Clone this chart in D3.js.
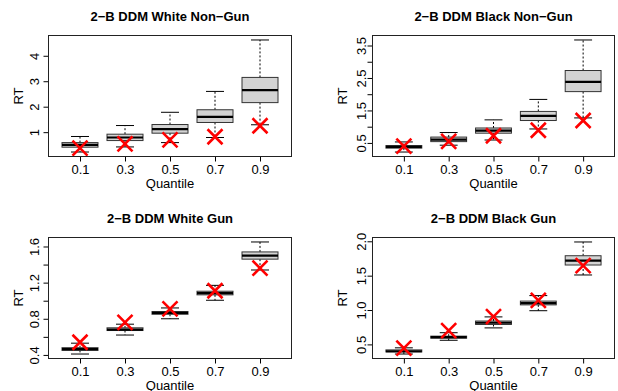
<!DOCTYPE html>
<html>
<head>
<meta charset="utf-8">
<script src="https://cdn.jsdelivr.net/npm/d3@7"></script>
<style>
  body { margin: 0; background: #fff; }
  svg text { font-family: "Liberation Sans", Arial, sans-serif; fill: #000; }
</style>
</head>
<body>
<svg id="chart" width="618" height="391"></svg>
<script>
const quantiles = ['0.1', '0.3', '0.5', '0.7', '0.9'];
const titles = ['2\u2212B DDM White Non\u2212Gun', '2\u2212B DDM Black Non\u2212Gun',
  '2\u2212B DDM White Gun', '2\u2212B DDM Black Gun'];

// box stats per quantile: [lower whisker, Q1, median, Q3, upper whisker]
const whiteNonGunBoxes = [[0.22, 0.41, 0.50, 0.59, 0.83], [0.42, 0.67, 0.79, 0.92, 1.26],
  [0.59, 0.96, 1.12, 1.30, 1.78], [0.79, 1.38, 1.60, 1.88, 2.60], [1.29, 2.16, 2.65, 3.15, 4.62]];
const blackNonGunBoxes = [[0.22, 0.34, 0.38, 0.42, 0.53], [0.43, 0.54, 0.60, 0.68, 0.82],
  [0.59, 0.80, 0.88, 0.96, 1.21], [0.93, 1.19, 1.33, 1.47, 1.84], [1.27, 2.08, 2.38, 2.73, 3.67]];
const whiteGunBoxes = [[0.41, 0.45, 0.465, 0.48, 0.53], [0.62, 0.67, 0.68, 0.70, 0.74],
  [0.80, 0.85, 0.865, 0.88, 0.92], [1.005, 1.065, 1.085, 1.105, 1.17], [1.34, 1.46, 1.50, 1.54, 1.65]];
const blackGunBoxes = [[0.36, 0.39, 0.40, 0.42, 0.45], [0.56, 0.59, 0.605, 0.62, 0.67],
  [0.74, 0.79, 0.815, 0.84, 0.90], [0.99, 1.075, 1.10, 1.13, 1.21], [1.51, 1.655, 1.72, 1.79, 1.99]];

// observed quantiles (red crosses)
const whiteNonGunObs = [0.37, 0.54, 0.70, 0.82, 1.25];
const blackNonGunObs = [0.40, 0.55, 0.72, 0.89, 1.19];
const whiteGunObs = [0.54, 0.76, 0.91, 1.11, 1.36];
const blackGunObs = [0.445, 0.70, 0.905, 1.14, 1.645];

// y ticks and which of them carry a label
const whiteNonGunTicks = [1, 2, 3, 4];
const whiteNonGunLabels = ['1', '2', '3', '4'];
const blackNonGunTicks = [0.5, 1, 1.5, 2, 2.5, 3, 3.5];
const blackNonGunLabels = ['0.5', '', '1.5', '', '2.5', '', '3.5'];
const whiteGunTicks = [0.4, 0.6, 0.8, 1.0, 1.2, 1.4, 1.6];
const whiteGunLabels = ['0.4', '', '0.8', '', '1.2', '', '1.6'];
const blackGunTicks = [0.5, 1.0, 1.5, 2.0];
const blackGunLabels = ['0.5', '1.0', '1.5', '2.0'];

const panels = [
  {title: titles[0], boxes: whiteNonGunBoxes, obs: whiteNonGunObs, ticks: whiteNonGunTicks, labels: whiteNonGunLabels,
    x0: 48.5, x1: 291.5, y0: 35.5, y1: 156.5, lab: 14},
  {title: titles[1], boxes: blackNonGunBoxes, obs: blackNonGunObs, ticks: blackNonGunTicks, labels: blackNonGunLabels,
    x0: 372.5, x1: 614.5, y0: 35.5, y1: 156.5, lab: 11.5},
  {title: titles[2], boxes: whiteGunBoxes, obs: whiteGunObs, ticks: whiteGunTicks, labels: whiteGunLabels,
    x0: 48.5, x1: 291.5, y0: 237.5, y1: 358.5, lab: 14},
  {title: titles[3], boxes: blackGunBoxes, obs: blackGunObs, ticks: blackGunTicks, labels: blackGunLabels,
    x0: 372.5, x1: 614.5, y0: 237.5, y1: 358.5, lab: 11.5}
];

const svg = d3.select('#chart');

panels.forEach(function(p) {
  const g = svg.append('g');

  // R style: xlim c(0.5, n + 0.5) and 4% padding on each axis
  const n = quantiles.length;
  const xr = [0.5, n + 0.5], xpad = (xr[1] - xr[0]) * 0.04;
  const x = d3.scaleLinear().domain([xr[0] - xpad, xr[1] + xpad]).range([p.x0, p.x1]);

  const lo = d3.min(p.boxes, d => d[0]), hi = d3.max(p.boxes, d => d[4]);
  const ypad = (hi - lo) * 0.04;
  const y = d3.scaleLinear().domain([lo - ypad, hi + ypad]).range([p.y1, p.y0]);

  const cx = function(i) { return x(i + 1); };
  const hw = 0.4, sw = 0.2;

  const box = g.selectAll('g.box')
    .data(p.boxes)
    .enter().append('g')
    .attr('class', 'box');

  // whiskers
  box.append('line')
    .attr('x1', (d, i) => cx(i)).attr('x2', (d, i) => cx(i))
    .attr('y1', d => y(d[3])).attr('y2', d => y(d[4]))
    .attr('stroke', '#000').attr('stroke-dasharray', '2,2');
  box.append('line')
    .attr('x1', (d, i) => cx(i)).attr('x2', (d, i) => cx(i))
    .attr('y1', d => y(d[1])).attr('y2', d => y(d[0]))
    .attr('stroke', '#000').attr('stroke-dasharray', '2,2');

  // staples
  [0, 4].forEach(function(k) {
    box.append('line')
      .attr('x1', (d, i) => x(i + 1 - sw)).attr('x2', (d, i) => x(i + 1 + sw))
      .attr('y1', d => y(d[k])).attr('y2', d => y(d[k]))
      .attr('stroke', '#000').attr('stroke-width', 1);
  });

  box.append('rect')
    .attr('x', (d, i) => x(i + 1 - hw))
    .attr('width', x(1 + hw) - x(1 - hw))
    .attr('y', d => y(d[3]))
    .attr('height', d => y(d[1]) - y(d[3]))
    .attr('fill', '#d3d3d3')
    .attr('stroke', '#333').attr('stroke-width', 1);

  box.append('line')
    .attr('x1', (d, i) => x(i + 1 - hw)).attr('x2', (d, i) => x(i + 1 + hw))
    .attr('y1', d => y(d[2])).attr('y2', d => y(d[2]))
    .attr('stroke', '#000').attr('stroke-width', 2.2);

  // observed crosses
  const s = 7.5;
  const cross = g.selectAll('path.obs')
    .data(p.obs)
    .enter().append('path')
    .attr('class', 'obs')
    .attr('d', function(d, i) {
      const px = cx(i), py = y(d);
      return 'M' + (px - s) + ',' + (py - s) + 'L' + (px + s) + ',' + (py + s) +
        'M' + (px - s) + ',' + (py + s) + 'L' + (px + s) + ',' + (py - s);
    })
    .attr('stroke', '#ff0000').attr('stroke-width', 2.6).attr('fill', 'none');

  // axes
  const ax = g.append('g')
    .attr('transform', 'translate(0,' + p.y1 + ')')
    .call(d3.axisBottom(x).tickValues(d3.range(1, n + 1)).tickFormat((d, i) => quantiles[i])
      .tickSize(5).tickPadding(3));
  ax.select('.domain').attr('d', 'M' + x(1) + ',0H' + x(n));
  ax.selectAll('text').attr('font-size', 13).attr('dy', '0.71em');

  const ay = g.append('g')
    .attr('transform', 'translate(' + p.x0 + ',0)')
    .call(d3.axisLeft(y).tickValues(p.ticks).tickFormat((d, i) => p.labels[i]).tickSize(5));
  ay.select('.domain').attr('d', 'M0,' + y(p.ticks[0]) + 'V' + y(p.ticks[p.ticks.length - 1]));
  ay.selectAll('text')
    .attr('font-size', 13)
    .attr('x', null).attr('dy', null)
    .attr('text-anchor', 'middle')
    .attr('dominant-baseline', 'central')
    .attr('transform', 'translate(' + (-p.lab) + ',0) rotate(-90)');
  g.selectAll('.tick line').attr('stroke', '#000');
  g.selectAll('.domain').attr('stroke', '#000');

  // plot frame
  g.append('rect')
    .attr('x', p.x0).attr('y', p.y0)
    .attr('width', p.x1 - p.x0).attr('height', p.y1 - p.y0)
    .attr('fill', 'none').attr('stroke', '#222');

  g.append('text')
    .attr('x', (p.x0 + p.x1) / 2).attr('y', p.y0 - 14.5)
    .attr('text-anchor', 'middle')
    .attr('font-size', 13).attr('font-weight', 'bold')
    .text(p.title);

  g.append('text')
    .attr('x', (p.x0 + p.x1) / 2).attr('y', p.y1 + 31)
    .attr('text-anchor', 'middle')
    .attr('font-size', 13)
    .text('Quantile');

  g.append('text')
    .attr('transform', 'translate(' + (p.x0 - 30) + ',' + ((p.y0 + p.y1) / 2) + ') rotate(-90)')
    .attr('text-anchor', 'middle')
    .attr('dominant-baseline', 'central')
    .attr('font-size', 13)
    .text('RT');
});
</script>
</body>
</html>
